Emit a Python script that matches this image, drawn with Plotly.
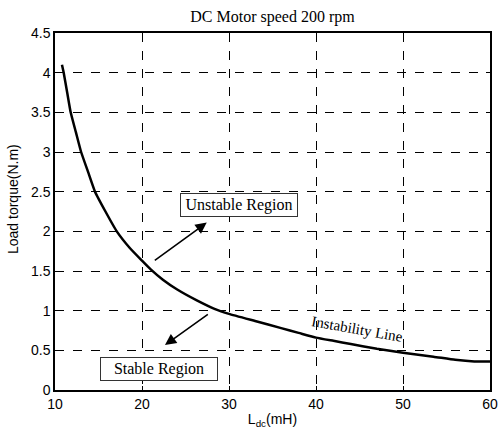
import plotly.graph_objects as go

# Instability boundary: DC-link inductance (mH) vs. load torque (N.m)
inductance_mh = [10.8, 11.0, 11.4, 11.8, 12.4, 13.0, 13.8, 14.6, 15.8, 17.1,
                 18.6, 20.0, 21.0, 22.4, 24.0, 26.3, 28.4, 30.0, 33.0, 36.0,
                 38.0, 40.0, 42.0, 44.0, 47.0, 50.0, 53.5, 56.0, 58.2, 60.0]
load_torque = [4.10, 4.00, 3.75, 3.50, 3.25, 3.00, 2.75, 2.50, 2.25, 2.00,
               1.79, 1.63, 1.52, 1.39, 1.27, 1.13, 1.02, 0.96, 0.87, 0.78,
               0.72, 0.66, 0.62, 0.58, 0.52, 0.47, 0.42, 0.38, 0.36, 0.36]

x_ticks = [10, 20, 30, 40, 50, 60]
y_ticks = [0, 0.5, 1, 1.5, 2, 2.5, 3, 3.5, 4, 4.5]
y_tick_text = ["0", "0.5", "1", "1.5", "2", "2.5", "3", "3.5", "4", "4.5"]

SERIF = "Liberation Serif, Times New Roman, serif"
SANS = "Liberation Sans, Arial, sans-serif"

fig = go.Figure()
fig.add_trace(go.Scatter(
    x=inductance_mh, y=load_torque, mode="lines",
    line=dict(color="black", width=2.5, shape="spline", smoothing=0.4),
    showlegend=False,
))

axis_common = dict(
    showline=True, linecolor="black", linewidth=1.5, mirror="ticks",
    ticks="inside", ticklen=4, tickcolor="black",
    showgrid=True, gridcolor="black", gridwidth=1, griddash="dash",
    zeroline=False, automargin=False,
    tickfont=dict(family=SANS, size=14, color="black"),
)

fig.update_xaxes(range=[10, 60], tickvals=x_ticks, **axis_common,
                 title=dict(text="L<sub>dc</sub>(mH)",
                            font=dict(family=SANS, size=14, color="black"),
                            standoff=4))
fig.update_yaxes(range=[0, 4.5], tickvals=y_ticks, ticktext=y_tick_text,
                 **axis_common)

# y-axis label, placed a little above the axis centre
fig.add_annotation(x=0, y=0.535, xref="paper", yref="paper", xshift=-42,
                   xanchor="center", yanchor="middle",
                   text="Load torque(N.m)", textangle=-90, showarrow=False,
                   font=dict(family=SANS, size=14, color="black"))

# Region labels and arrows
fig.add_annotation(x=27.44, y=2.11, ax=21.3, ay=1.62, axref="x", ayref="y",
                   xref="x", yref="y", text="", showarrow=True,
                   arrowhead=2, arrowsize=1.4, arrowwidth=1.6,
                   arrowcolor="black")
fig.add_annotation(x=22.64, y=0.567, ax=27.74, ay=0.967, axref="x", ayref="y",
                   xref="x", yref="y", text="", showarrow=True,
                   arrowhead=2, arrowsize=1.4, arrowwidth=1.6,
                   arrowcolor="black")
fig.add_annotation(x=31.2, y=2.33, xref="x", yref="y", text="Unstable Region",
                   showarrow=False, bordercolor="#333333", borderwidth=1,
                   borderpad=2, bgcolor="white", width=112,
                   font=dict(family=SERIF, size=16, color="black"))
fig.add_annotation(x=22.0, y=0.26, xref="x", yref="y", text="Stable Region",
                   showarrow=False, bordercolor="#333333", borderwidth=1,
                   borderpad=2, bgcolor="white", width=112,
                   font=dict(family=SERIF, size=16, color="black"))
fig.add_annotation(x=44.7, y=0.77, xref="x", yref="y", text="Instability Line",
                   showarrow=False, textangle=10,
                   font=dict(family=SERIF, size=15, color="black"))

fig.update_layout(
    width=501, height=436,
    margin=dict(l=55, r=11, t=33, b=46),
    paper_bgcolor="white", plot_bgcolor="white",
    title=dict(text="DC Motor speed 200 rpm", x=0.544, xanchor="center",
               y=0.962, yanchor="middle",
               font=dict(family=SERIF, size=16, color="black")),
)

fig.write_html("out.html")
